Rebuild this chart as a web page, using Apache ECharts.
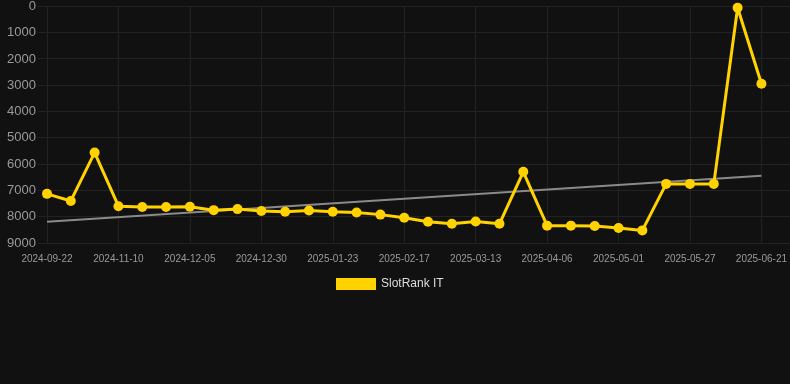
<!DOCTYPE html>
<html>
<head>
<meta charset="utf-8">
<script src="https://cdn.jsdelivr.net/npm/echarts@6/dist/echarts.min.js"></script>
<style>
  html, body { margin: 0; padding: 0; background: #111111; }
  #chart { width: 790px; height: 384px; }
</style>
</head>
<body>
<div id="chart"></div>
<script>
// dates on the x axis (one per point)
const dates = [
  '2024-09-22', '2024-10-08', '2024-10-24', '2024-11-10', '2024-11-18', '2024-11-27',
  '2024-12-05', '2024-12-13', '2024-12-22', '2024-12-30', '2025-01-07', '2025-01-15',
  '2025-01-23', '2025-01-31', '2025-02-09', '2025-02-17', '2025-02-25', '2025-03-05',
  '2025-03-13', '2025-03-21', '2025-03-29', '2025-04-06', '2025-04-14', '2025-04-23',
  '2025-05-01', '2025-05-09', '2025-05-18', '2025-05-27', '2025-06-04', '2025-06-13',
  '2025-06-21'
];

// rank values (lower is better, axis inverted)
const rankValues = [
  7130, 7400, 5560, 7600, 7630, 7630,
  7620, 7750, 7710, 7780, 7810, 7760,
  7810, 7840, 7920, 8040, 8190, 8270,
  8180, 8270, 6290, 8340, 8340, 8350,
  8430, 8520, 6750, 6750, 6750, 50,
  2940
];

// trend line end points (first and last date)
const trendEnds = [8190, 6445];

const yTicks = { min: 0, max: 9000, interval: 1000 };

const colors = {
  bg: '#111111',
  line: '#FFD200',
  trend: '#8a8a8a',
  grid: '#222222',
  label: '#9a9a9a',
  legend: '#dddddd'
};

const trendData = dates.map((d, i) =>
  i === 0 ? trendEnds[0] : (i === dates.length - 1 ? trendEnds[1] : null));

const chart = echarts.init(document.getElementById('chart'), null, { renderer: 'canvas' });

chart.setOption({
  backgroundColor: colors.bg,
  textStyle: { fontFamily: '"Liberation Sans", Arial, sans-serif' },
  animation: false,
  legend: {
    data: ['SlotRank IT'],
    top: 273,
    left: 331,
    itemWidth: 40,
    itemHeight: 12,
    itemGap: 6,
    icon: 'rect',
    textStyle: { color: colors.legend, fontSize: 12 }
  },
  grid: [
    { left: 47, right: 28, top: 6, bottom: 141 },
    { left: 38, right: 0, top: 6, bottom: 141 }
  ],
  xAxis: [{
    type: 'category',
    gridIndex: 0,
    data: dates,
    boundaryGap: false,
    axisLine: { show: false },
    axisTick: { show: false },
    axisLabel: { color: colors.label, fontSize: 10, interval: 2, margin: 11 },
    splitLine: { show: true, interval: 2, lineStyle: { color: colors.grid, width: 1 } }
  }, {
    type: 'value',
    gridIndex: 1,
    show: false
  }],
  yAxis: [{
    type: 'value',
    gridIndex: 0,
    inverse: true,
    min: yTicks.min,
    max: yTicks.max,
    interval: yTicks.interval,
    axisLine: { show: false },
    axisTick: { show: false },
    axisLabel: { color: colors.label, fontSize: 13, margin: 11, formatter: v => String(v) },
    splitLine: { show: false }
  }, {
    type: 'value',
    gridIndex: 1,
    inverse: true,
    min: yTicks.min,
    max: yTicks.max,
    interval: yTicks.interval,
    axisLine: { show: false },
    axisTick: { show: false },
    axisLabel: { show: false },
    splitLine: { lineStyle: { color: colors.grid, width: 1 } }
  }],
  series: [{
    name: 'trend',
    type: 'line',
    data: trendData,
    connectNulls: true,
    symbol: 'none',
    lineStyle: { color: colors.trend, width: 2 },
    silent: true,
    z: 2
  }, {
    name: 'SlotRank IT',
    type: 'line',
    data: rankValues,
    symbol: 'circle',
    symbolSize: 10,
    lineStyle: { color: colors.line, width: 3 },
    itemStyle: { color: colors.line },
    z: 3
  }]
});
</script>
</body>
</html>
